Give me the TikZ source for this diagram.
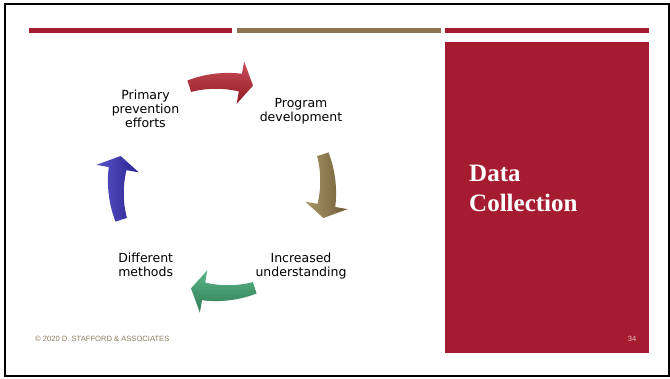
\documentclass[tikz,border=0pt]{standalone}
\usepackage{fontspec}
\setmainfont{Liberation Serif}
\newfontfamily\labelfont{DejaVu Sans}
\newfontfamily\footfont{Liberation Sans}
\usetikzlibrary{calc}
\definecolor{crimson}{HTML}{A51C30}
\definecolor{khaki}{HTML}{8A7550}
\definecolor{footgray}{HTML}{8C7B5C}
\definecolor{pagenum}{HTML}{E6BCC4}
\definecolor{redlight}{HTML}{CC4E59}
\definecolor{reddark}{HTML}{8E1A25}
\definecolor{brownlight}{HTML}{AA986C}
\definecolor{browndark}{HTML}{6E5B34}
\definecolor{greenlight}{HTML}{5DB488}
\definecolor{greendark}{HTML}{2E7D55}
\definecolor{bluelight}{HTML}{5A53C8}
\definecolor{bluedark}{HTML}{2A2490}
\tikzset{
  steplabel/.style={font=\labelfont\fontsize{12.5}{14}\selectfont, align=center, inner sep=0pt},
  titletext/.style={font=\bfseries\fontsize{25}{30}\selectfont, text=white, align=left, inner sep=0pt},
  smallfoot/.style={font=\footfont\fontsize{7.6}{9}\selectfont, inner sep=0pt}
}
% curved block arrow of the cycle: base angle, light colour, dark colour, shading angle
\newcommand{\cyclearrow}[4]{%
  \pgfmathsetmacro\ta{#1-18}\pgfmathsetmacro\tb{#1+10}\pgfmathsetmacro\tc{#1+17}%
  \shade[top color=#2, bottom color=#3, shading angle=#4]
    plot[domain=\ta:\tb, samples=12] (\x:{106+6+3*(\x-\ta)/28})
    -- (\tb:127.5) -- (\tc:106) -- (\tb:84.5)
    -- plot[domain=\tb:\ta, samples=12] (\x:{106-6-3*(\x-\ta)/28}) -- cycle;
}

\begin{document}
\begin{tikzpicture}[x=1pt, y=-1pt]
  \useasboundingbox (0,0) rectangle (670,378);
  \fill[white] (0,0) rectangle (670,378);
  \draw[line width=2.3pt] (4.7,4.3) rectangle (668.8,376);

  % rules along the top
  \fill[crimson] (29,28) rectangle (232,33);
  \fill[khaki] (237,28) rectangle (441,33);
  \fill[crimson] (445,28) rectangle (649,33);

  % side panel
  \fill[crimson] (445,42) rectangle (649,353);
  \node[titletext, anchor=west] (title) at (469,188.5) {Data\\Collection};
  \node[smallfoot, text=pagenum] (page) at (632,339) {34};

  % the cycle
  \begin{scope}[shift={(222,187)}]
    \cyclearrow{-90}{redlight}{reddark}{0}
    \cyclearrow{0}{brownlight}{browndark}{90}
    \cyclearrow{90}{greenlight}{greendark}{0}
    \cyclearrow{180}{bluelight}{bluedark}{90}
  \end{scope}

  \node[steplabel] (primary) at (145.5,109) {Primary\\prevention\\efforts};
  \node[steplabel] (program) at (301,111) {Program\\development};
  \node[steplabel] (increased) at (301,266.5) {Increased\\understanding};
  \node[steplabel] (different) at (145.7,265) {Different\\methods};

  \node[smallfoot, text=footgray, anchor=west] (footer) at (35,339) {\textcopyright{} 2020 D. STAFFORD \& ASSOCIATES};
\end{tikzpicture}
\end{document}
